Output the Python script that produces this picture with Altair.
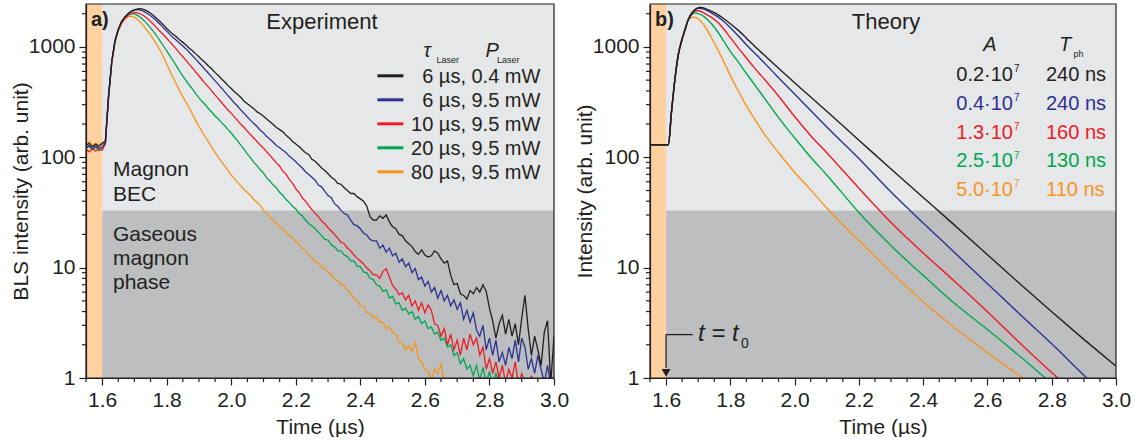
import altair as alt
import pandas as pd

FONT = "Liberation Sans"
INK = "#231f20"

# ---------------- data ----------------
series_colors = ["#231f20", "#2e3192", "#ed1c24", "#00a651", "#f7941d"]
exp_labels = ["6 µs, 0.4 mW", "6 µs, 9.5 mW", "10 µs, 9.5 mW", "20 µs, 9.5 mW", "80 µs, 9.5 mW"]
theory_A = ["0.2·10", "0.4·10", "1.3·10", "2.5·10", "5.0·10"]
theory_A_exp = "7"
theory_T = ["240 ns", "240 ns", "160 ns", "130 ns", "110 ns"]

x_major = [1.6, 1.8, 2.0, 2.2, 2.4, 2.6, 2.8, 3.0]
x_minor = [1.55, 1.65, 1.70, 1.75, 1.85, 1.90, 1.95, 2.05, 2.10, 2.15, 2.25,
           2.30, 2.35, 2.45, 2.50, 2.55, 2.65, 2.70, 2.75, 2.85, 2.90, 2.95]
y_major = [1, 10, 100, 1000]
y_minor = [2, 3, 4, 5, 6, 7, 8, 9, 20, 30, 40, 50, 60, 70, 80, 90,
           200, 300, 400, 500, 600, 700, 800, 900, 2000]

x_domain = [1.55, 3.0]
y_domain = [1, 2450]
laser_window = [1.55, 1.60]
bec_threshold = 33

# experiment: BLS intensity sampled every 0.01 us from 1.55 us
exp_time = [round(1.55 + 0.01 * i, 2) for i in range(146)]
exp_black = [128, 134, 125, 131, 126, 133, 140, 370, 750, 1150,
             1450, 1700, 1860, 2000, 2100, 2170, 2215, 2220, 2180, 2110,
             2020, 1915, 1800, 1690, 1580, 1470, 1380, 1300, 1235, 1160,
             1100, 1040, 975, 925, 865, 815, 760, 718, 668, 630,
             585, 552, 512, 481, 446, 420, 392, 370, 348, 322,
             306, 290, 276, 258, 248, 236, 222, 210, 198, 186,
             178, 170, 158, 150, 139, 132, 125, 117, 110, 106,
             96, 92, 86, 80, 76, 71, 66, 63, 58, 57,
             53, 50, 47, 47, 44, 42, 40, 36, 29, 27,
             27, 29.5, 28, 30, 26, 23.5, 22.5, 20, 19.5, 17.5,
             16.5, 15.5, 14, 13.2, 14.5, 13, 12.5, 12.8, 14.2, 13.5,
             12, 11, 11.5, 8.5, 7, 7.2, 5.8, 5.6, 5.2, 6.2,
             5.8, 6.6, 6, 7, 6.1, 4.3, 3.3, 2.3, 3.1, 3.7,
             2.5, 3.4, 2.4, 3.1, 2, 3.5, 5.6, 2.8, 1.6, 2.4,
             1.8, 1.3, 2.6, 3.3, 0.9, 2.4]
exp_blue = [122, 128, 119, 126, 121, 124, 135, 360, 740, 1140,
            1440, 1690, 1860, 2000, 2100, 2170, 2180, 2150, 2090, 2010,
            1920, 1820, 1710, 1600, 1490, 1390, 1300, 1220, 1150, 1080,
            1020, 960, 895, 832, 775, 720, 668, 618, 575, 532,
            492, 458, 424, 392, 362, 336, 310, 290, 268, 250,
            232, 216, 202, 190, 176, 166, 154, 146, 137, 128,
            122, 116, 110, 102, 97, 91, 85, 80, 74, 70,
            66, 62, 56, 54, 49, 45, 43, 38, 36, 33,
            31, 30, 27, 24.5, 24, 22.5, 20.5, 19.8, 18, 17.5,
            17.5, 15, 16, 13.8, 15, 12.8, 13.5, 11.2, 12, 10.2,
            11, 9, 9.8, 7.8, 8.2, 6.8, 7.5, 6, 6.6, 5.3,
            6.2, 5, 5.6, 4.5, 5.1, 4.2, 4.8, 3.4, 4.1, 3.2,
            3.9, 2.7, 2.4, 3, 1.8, 2.3, 1.6, 2.2, 1.4, 1.7,
            1.3, 1.9, 1.5, 2.2, 1.4, 2.3, 1.9, 1.2, 1.5, 1.1,
            1.6, 1.2, 0.9, 1.3, 0.85, 1.05]
exp_red = [118, 112, 120, 114, 119, 116, 132, 350, 730, 1120,
           1420, 1650, 1820, 1940, 2020, 2060, 2040, 1990, 1910, 1810,
           1700, 1590, 1480, 1380, 1290, 1200, 1110, 1030, 955, 880,
           815, 755, 695, 645, 592, 548, 502, 465, 430, 398,
           366, 340, 314, 290, 268, 250, 231, 215, 199, 186,
           172, 160, 149, 139, 129, 121, 112, 104, 96, 89,
           83, 75, 70, 63, 58, 52, 48, 43, 40, 36.5,
           33.5, 31, 29, 26.5, 25, 23, 21.5, 20, 18.5, 17,
           16.5, 15, 14.2, 13, 12.2, 11.5, 10.8, 9.9, 9.4, 8.6,
           8.6, 8, 9.2, 9.8, 8.2, 6.9, 6.4, 5.7, 5.9, 5.1,
           5.6, 4.5, 5, 4.1, 4.8, 3.9, 4.6, 4.1, 3.1, 3.0,
           2.4, 2.8, 2.0, 2.5, 1.8, 2.2, 1.6, 2.3, 1.8, 2.5,
           2.0, 2.3, 1.6, 1.9, 1.2, 1.5, 1.1, 1.4, 1.0, 1.3,
           0.9, 1.2, 1.0, 1.4, 0.85, 1.1, 0.9, 0.8, 1.05, 0.8,
           0.85, 0.8, 0.9, 0.8, 0.8, 0.8]
exp_green = [120, 126, 117, 124, 115, 121, 134, 355, 740, 1130,
             1430, 1660, 1830, 1940, 2000, 1990, 1930, 1840, 1730, 1610,
             1490, 1370, 1250, 1130, 1020, 920, 830, 750, 675, 605,
             545, 496, 452, 414, 377, 346, 320, 298, 275, 256,
             237, 222, 206, 193, 178, 166, 152, 141, 128, 118,
             107, 99, 90, 84, 77, 72, 65, 61, 56, 53,
             48, 45, 41.5, 39, 36, 34, 31, 29.5, 27, 25,
             24, 22.5, 21, 19.5, 18, 17.8, 16, 15.5, 14.2, 14.2,
             13, 12.6, 11.5, 11.5, 10.3, 10.2, 9.1, 9.0, 8, 7.8,
             7, 6.8, 6.1, 6.3, 5.3, 5.5, 4.7, 4.8, 4.1, 4.3,
             3.8, 4.0, 3.4, 3.6, 3.1, 3.3, 2.8, 2.9, 2.5, 2.6,
             2.2, 2.3, 1.9, 2.0, 1.6, 1.7, 1.35, 1.5, 1.2, 1.3,
             1.05, 1.3, 0.95, 1.25, 0.9, 1.15, 0.85, 1.1, 0.9, 0.95,
             0.8, 0.9, 0.8]
exp_orange = [130, 138, 127, 135, 129, 136, 142, 355, 720, 1100,
              1390, 1610, 1770, 1870, 1900, 1860, 1770, 1660, 1530, 1400,
              1290, 1160, 1040, 930, 810, 700, 605, 525, 460, 400,
              355, 315, 280, 245, 215, 190, 170, 152, 137, 123,
              111, 100, 91, 83, 76, 69, 64, 59, 55, 51,
              48, 45, 41.5, 39, 36.5, 33, 31, 28.5, 27, 25,
              23.5, 22.5, 20.8, 19.5, 18.8, 17.2, 16.5, 15, 14.2, 13,
              12.3, 11.4, 11, 10.1, 9.7, 9, 8.7, 7.9, 7.6, 7,
              6.9, 6.2, 5.9, 5.2, 5.0, 4.5, 4.4, 3.9, 3.8, 3.5,
              3.6, 3.2, 3.2, 2.8, 2.9, 2.6, 2.5, 2.1, 2.1, 1.8,
              1.95, 1.75, 2.1, 1.5, 1.4, 1.2, 1.15, 0.95, 1.2, 1.1,
              1.35, 0.9, 0.85]

# theory curves
theory_time = [1.55, 1.607, 1.617, 1.628, 1.638, 1.648, 1.659, 1.669, 1.68, 1.69,
               1.70, 1.71, 1.72, 1.74, 1.76, 1.78, 1.80, 1.825, 1.85, 1.875,
               1.90, 1.95, 2.0, 2.05, 2.1, 2.2, 2.3, 2.4, 2.5, 2.6,
               2.7, 2.8, 2.9, 3.0]
th_black = [130, 130, 260, 523, 850, 1125, 1435, 1767, 2030, 2180,
            2270, 2285, 2240, 2113, 1972, 1799, 1622, 1413, 1202, 1020,
            871, 641, 474, 352, 261, 143, 78.3, 43.3, 23.9, 13.1,
            7.18, 3.98, 2.24, 1.28]
th_blue = [130, 130, 260, 523, 850, 1125, 1435, 1767, 2010, 2160,
           2240, 2230, 2188, 2042, 1884, 1698, 1496, 1259, 1047, 883,
           745, 527, 374, 265, 188, 97.7, 48.4, 25.4, 13.5, 7.16,
           3.8, 2.04, 1.06, 0.56]
th_red = [130, 130, 260, 523, 850, 1125, 1435, 1767, 1990, 2110,
          2130, 2090, 2018, 1862, 1679, 1445, 1216, 977, 794, 646,
          533, 359, 234, 157, 110, 52.5, 25.7, 13.6, 7.41, 3.98,
          2.09, 1.12, 0.62, 0.34]
th_green = [130, 130, 260, 523, 850, 1125, 1435, 1767, 1960, 2030,
            2005, 1950, 1862, 1641, 1380, 1122, 912, 728, 575, 457,
            363, 229, 150, 100, 69.2, 31.6, 15.8, 8.51, 4.68, 2.75,
            1.58, 0.89, 0.5, 0.28]
th_orange = [130, 130, 260, 523, 850, 1125, 1435, 1767, 1849, 1862,
             1799, 1679, 1549, 1230, 955, 733, 550, 398, 292, 224,
             172, 110, 73.3, 50.7, 34.7, 17.6, 9.12, 4.9, 2.82, 1.7,
             1.05, 0.66, 0.43, 0.28]

# ---------------- layout ----------------
H = 374
W_L = 468
W_R = 466
FS = 21

region_names = ["bec", "gas", "laser"]
region_colors = ["#e6e7e8", "#bcbec0", "#fdd2a0"]


def x_enc(field):
    return alt.X(f"{field}:Q",
                 scale=alt.Scale(domain=x_domain, nice=False, zero=False),
                 axis=alt.Axis(values=x_major, format=".1f", title="Time (µs)",
                               grid=False, tickSize=7, tickWidth=1.2, domainWidth=1.2,
                               tickColor=INK, domainColor=INK, labelColor=INK, titleColor=INK,
                               labelFont=FONT, titleFont=FONT, labelFontSize=FS, titleFontSize=FS,
                               titleFontWeight="normal", labelPadding=4, labelFlush=False,
                               labelOverlap=False, titleY=49, titleBaseline="middle", zindex=1))


def y_enc(field, title):
    return alt.Y(f"{field}:Q",
                 scale=alt.Scale(type="log", domain=y_domain, nice=False),
                 axis=alt.Axis(values=y_major, format="d", title=title,
                               grid=False, tickSize=7, tickWidth=1.2, domainWidth=1.2,
                               tickColor=INK, domainColor=INK, labelColor=INK, titleColor=INK,
                               labelFont=FONT, titleFont=FONT, labelFontSize=FS, titleFontSize=FS,
                               titleFontWeight="normal", labelPadding=4, labelOverlap=False,
                               titleX=-65, titleBaseline="middle", zindex=1))


def one_row():
    return pd.DataFrame({"o": [0]})


def txt(text, x, y, size=FS, align="left", color=INK, style="normal", weight="normal",
        baseline="alphabetic", line_height=None):
    kw = dict(font=FONT, fontSize=size, align=align, baseline=baseline,
              fontStyle=style, fontWeight=weight, color=color)
    if line_height is not None:
        kw["lineBreak"] = "\n"
        kw["lineHeight"] = line_height
    return alt.Chart(one_row()).mark_text(**kw).encode(
        x=alt.value(x), y=alt.value(y), text=alt.value(text))


def panel(width, ytitle, times, series, stroke_w, interp, tag, heading):
    regions = pd.DataFrame({
        "region": region_names,
        "x0": [laser_window[1], laser_window[1], laser_window[0]],
        "x1": [x_domain[1], x_domain[1], laser_window[1]],
        "y0": [bec_threshold, y_domain[0], y_domain[0]],
        "y1": [y_domain[1], bec_threshold, y_domain[1]],
    })
    layers = [
        alt.Chart(regions).mark_rect().encode(
            x=x_enc("x0"), x2="x1", y=y_enc("y0", ytitle), y2="y1",
            color=alt.Color("region:N", scale=alt.Scale(domain=region_names, range=region_colors),
                            legend=None))
    ]
    order = [4, 3, 2, 1, 0]
    for k in order:
        vals = series[k]
        df = pd.DataFrame({"t": times[:len(vals)], "v": vals})
        mk = dict(color=series_colors[k], strokeWidth=stroke_w, clip=True)
        if interp:
            mk["interpolate"] = interp
        layers.append(alt.Chart(df).mark_line(**mk).encode(x=x_enc("t"), y=y_enc("v", ytitle)))
    # minor ticks
    layers.append(alt.Chart(pd.DataFrame({"xm": x_minor})).mark_rule(
        color=INK, strokeWidth=1.2, clip=False).encode(
        x=x_enc("xm"), y=alt.value(H), y2=alt.value(H + 4)))
    layers.append(alt.Chart(pd.DataFrame({"ym": y_minor})).mark_rule(
        color=INK, strokeWidth=1.2, clip=False).encode(
        y=y_enc("ym", ytitle), x=alt.value(0), x2=alt.value(-4)))
    # frame
    layers.append(alt.Chart(one_row()).mark_rect(filled=False, stroke=INK, strokeWidth=1.2).encode(
        x=alt.value(0), x2=alt.value(width), y=alt.value(0), y2=alt.value(H)))
    layers.append(txt(tag, 5, 21.5, size=20, weight="bold"))
    layers.append(txt(heading, 236, 25.3, size=22, align="center"))
    return layers


# ---- left panel ----
left_layers = panel(W_L, "BLS intensity (arb. unit)", exp_time,
                    [exp_black, exp_blue, exp_red, exp_green, exp_orange], 1.3, None, "a)", "Experiment")
left_layers.append(txt("Magnon\nBEC", 27, 172.3, line_height=24.5))
left_layers.append(txt("Gaseous\nmagnon\nphase", 27, 237.3, line_height=23.7))
left_layers.append(txt("τ", 337.4, 53, size=20, style="italic"))
left_layers.append(txt("Laser", 350.4, 58.5, size=9))
left_layers.append(txt("P", 399.4, 53, size=20, style="italic"))
left_layers.append(txt("Laser", 411, 58.5, size=9))
for i, (lab, col) in enumerate(zip(exp_labels, series_colors)):
    yc = 71.8 + 24 * i
    left_layers.append(alt.Chart(one_row()).mark_rule(color=col, strokeWidth=3).encode(
        x=alt.value(291.4), x2=alt.value(317.4), y=alt.value(yc)))
    left_layers.append(txt(lab, 454.4, yc + 7.2, size=20, align="right"))
left = alt.layer(*left_layers).properties(width=W_L, height=H)

# ---- right panel ----
right_layers = panel(W_R, "Intensity (arb. unit)", theory_time,
                     [th_black, th_blue, th_red, th_green, th_orange], 1.4, "monotone", "b)", "Theory")
right_layers.append(txt("A", 340, 47.3, size=20, style="italic", align="center"))
right_layers.append(txt("T", 409, 47.3, size=20, style="italic"))
right_layers.append(txt("ph", 423.5, 52.8, size=9))
for i, (a, tph, col) in enumerate(zip(theory_A, theory_T, series_colors)):
    yc = 69.8 + 28.8 * i
    right_layers.append(txt(a, 363, yc + 7.2, size=20, align="right", color=col))
    right_layers.append(txt(theory_A_exp, 364, yc - 1.6, size=10, color=col))
    right_layers.append(txt(tph, 396, yc + 7.2, size=20, color=col))
# t = t0 arrow
x16 = W_R * (laser_window[1] - x_domain[0]) / (x_domain[1] - x_domain[0])
right_layers.append(alt.Chart(one_row()).mark_rule(color=INK, strokeWidth=1.3).encode(
    x=alt.value(x16), x2=alt.value(42.7), y=alt.value(330.6)))
right_layers.append(alt.Chart(one_row()).mark_rule(color=INK, strokeWidth=1.3).encode(
    x=alt.value(x16), y=alt.value(330.6), y2=alt.value(364)))
right_layers.append(alt.Chart(one_row()).mark_point(
    shape="triangle-down", filled=True, size=80, color=INK, opacity=1).encode(
    x=alt.value(x16), y=alt.value(368.8)))
right_layers.append(txt("t = t", 48, 337, size=24, style="italic"))
right_layers.append(txt("0", 91, 344, size=14))
right = alt.layer(*right_layers).properties(width=W_R, height=H)

chart = alt.hconcat(left, right, spacing=96, bounds="flush").properties(
    padding={"left": 10, "top": 3, "right": 0, "bottom": 0}
).configure_view(stroke=None)

chart.save("out.html", embed_options={"renderer": "svg", "actions": False})
